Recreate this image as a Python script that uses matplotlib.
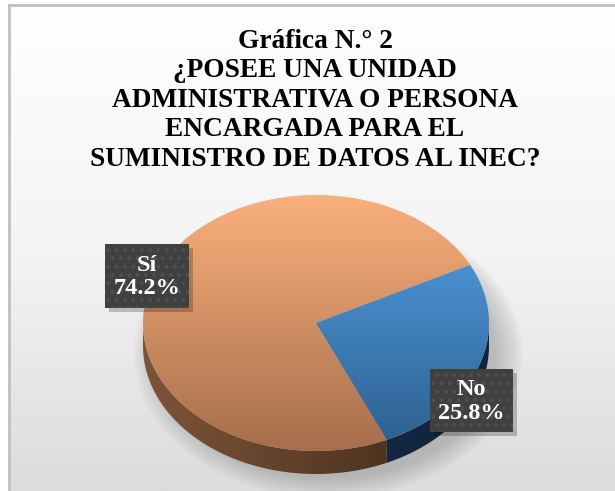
import numpy as np
import matplotlib
matplotlib.use("Agg")
import matplotlib.pyplot as plt
from matplotlib.patches import Polygon, Ellipse, Rectangle
from matplotlib.colors import LinearSegmentedColormap

# ---- data ----
categories = ["Sí", "No"]
values = [74.2, 25.8]
title_lines = ["Gráfica N.° 2", "¿POSEE UNA UNIDAD", "ADMINISTRATIVA O PERSONA",
               "ENCARGADA PARA EL", "SUMINISTRO DE DATOS AL INEC?"]

plt.rcParams["hatch.linewidth"] = 1.6

W, H = 615, 491
fig = plt.figure(figsize=(W / 100, H / 100), dpi=100)
fig.patch.set_facecolor("white")

# background axes in pixel coordinates
bg = fig.add_axes([0, 0, 1, 1], zorder=0)
bg.set_xlim(0, W)
bg.set_ylim(H, 0)
bg.axis("off")
grad = np.linspace(0, 1, 256)[:, None]
bgcmap = LinearSegmentedColormap.from_list("bg", ["#FFFFFF", "#F4F4F4", "#DCDCDC"])
bg.imshow(grad, cmap=bgcmap, extent=[9, W, H, 5], aspect="auto", zorder=0)
bg.plot([9, 9], [5, H], color="#C0C0C0", lw=2, zorder=1)
bg.plot([9, W], [5, 5], color="#C0C0C0", lw=2, zorder=1)

# title
y0 = 41
for i, line in enumerate(title_lines):
    bg.text(315, y0 + i * 29.6, line, ha="center", va="center",
            fontsize=19.7, fontweight="bold", family="Liberation Serif",
            color="black", zorder=2)

# pie axes: ellipse center (316,323), semi axes 173 x 128 (pixels)
cx, cy, rx, ry = 316, 323, 173, 128
dpx = 23
mL, mR, mT, mB = 30, 40, 10, 40
px0, px1 = cx - rx - mL, cx + rx + mR
py0, py1 = cy - ry - mT, cy + ry + dpx + mB
pa = fig.add_axes([px0 / W, 1 - py1 / H, (px1 - px0) / W, (py1 - py0) / H], zorder=1)
pa.patch.set_alpha(0)
depth = dpx / ry
XL = (-1 - mL / rx, 1 + mR / rx)
YL = (-1 - (dpx + mB) / ry, 1 + mT / ry)

# soft shadow below the pie (offset right / down)
for k in range(14):
    s = 0.97 + 0.012 * k
    e = Ellipse((0.07, -depth - 0.06), 2 * s, 2 * s, color="#7A7A7A",
                alpha=0.03, lw=0, zorder=0)
    pa.add_patch(e)

startangle = 27
wedges, _ = pa.pie(values, startangle=startangle, radius=1, center=(0, 0),
                   colors=["none", "none"], wedgeprops=dict(lw=0))
pa.set_aspect("auto")
pa.axis("off")

top_colors = [["#FAB07C", "#A66E4C"], ["#56A2EA", "#2C5F8E"]]
side_colors = [["#7E5438", "#3A2717"], ["#1A3050", "#12233A"]]

# side walls
for w, sc in zip(wedges, side_colors):
    a1, a2 = w.theta1, w.theta2
    segs = []
    for off in (0, 360, -360):
        lo, hi = max(a1 + off, 180), min(a2 + off, 360)
        if hi > lo:
            segs.append((lo, hi))
    for lo, hi in segs:
        t = np.radians(np.linspace(lo, hi, 100))
        xs, ys = np.cos(t), np.sin(t)
        pts = np.concatenate([np.column_stack([xs, ys]),
                              np.column_stack([xs[::-1], ys[::-1] - depth])])
        poly = Polygon(pts, closed=True, facecolor="none", lw=0, zorder=2)
        pa.add_patch(poly)
        cm = LinearSegmentedColormap.from_list("s", sc)
        im = pa.imshow(np.linspace(0, 1, 256)[None, :], cmap=cm,
                       extent=[-1, 1, -1 - depth, 0.2], aspect="auto", zorder=2)
        im.set_clip_path(poly)

# top faces with vertical gradient
for w, tc in zip(wedges, top_colors):
    cm = LinearSegmentedColormap.from_list("t", [tc[1], tc[0]])
    im = pa.imshow(np.linspace(0, 1, 256)[:, None], cmap=cm, origin="lower",
                   extent=[-1, 1, -1, 1], aspect="auto", zorder=3)
    im.set_clip_path(w)
pa.set_xlim(*XL)
pa.set_ylim(*YL)

# label overlay axes
la = fig.add_axes([0, 0, 1, 1], zorder=2)
la.set_xlim(0, W)
la.set_ylim(H, 0)
la.axis("off")
la.patch.set_alpha(0)


def label(x0, y0, x1, y1, text):
    la.add_patch(Rectangle((x0 + 4, y0 + 4), x1 - x0, y1 - y0,
                           facecolor="#000000", alpha=0.22, lw=0, zorder=5))
    la.add_patch(Rectangle((x0, y0), x1 - x0, y1 - y0, facecolor="#404040",
                           edgecolor="#4F4F4F", hatch="..", lw=0, zorder=6))
    la.text((x0 + x1) / 2, (y0 + y1) / 2 + 1, text, ha="center", va="center",
            fontsize=17.5, fontweight="bold", family="Liberation Serif",
            color="white", linespacing=1.15, zorder=7)


pct = [f"{v:.1f}%" for v in values]
label(105, 244, 189, 308, f"{categories[0]}\n{pct[0]}")
label(430, 369, 513, 432, f"{categories[1]}\n{pct[1]}")

fig.savefig("out.png", dpi=100)
